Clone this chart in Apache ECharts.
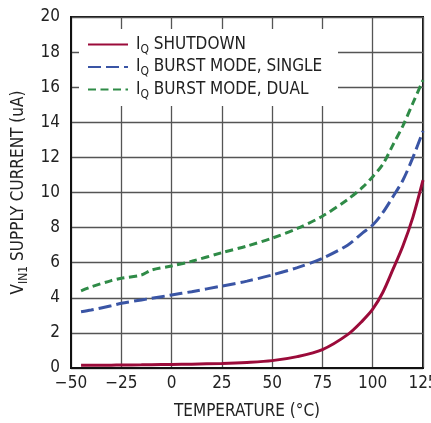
<!DOCTYPE html>
<html><head><meta charset="utf-8">
<script src="https://cdn.jsdelivr.net/npm/echarts@6/dist/echarts.min.js"></script>
<style>html,body{margin:0;padding:0;background:#fff}#c{width:431px;height:423px}</style>
</head><body><div id="c"></div>
<script>
var temps = [-45,-40,-30,-25,-15,-10,0,10,25,37.5,50,62.5,75,87.5,95,100,105,110,115,120,125];
var shutdown = [0.15,0.15,0.16,0.17,0.18,0.19,0.2,0.22,0.26,0.32,0.42,0.65,1.05,1.9,2.7,3.35,4.3,5.6,6.95,8.6,10.7];
var burstSingle = [3.2,3.3,3.55,3.69,3.88,3.97,4.16,4.35,4.67,4.95,5.3,5.72,6.25,7.0,7.7,8.15,8.85,9.75,10.7,12.0,13.5];
var burstDual = [4.4,4.62,4.98,5.11,5.3,5.58,5.81,6.08,6.57,6.95,7.4,7.95,8.65,9.6,10.3,10.9,11.6,12.7,13.8,15.1,16.4];
var seriesNames = ['SHUTDOWN','BURST MODE, SINGLE','BURST MODE, DUAL'];
var xTitle = 'TEMPERATURE (°C)';
var yTitleMain = 'V', yTitleSub = 'IN1', yTitleRest = ' SUPPLY CURRENT (uA)';

var FONT = "'Liberation Sans Narrow','DejaVu Sans Condensed',sans-serif";
var TXT = '#222';
function pairs(v){ return temps.map(function(t,i){ return [t, v[i]]; }); }
var richStyles = {
  a: {fontFamily: FONT, fontSize: 17, color: TXT, lineHeight: 22},
  s: {fontFamily: FONT, fontSize: 12, color: TXT, verticalAlign: 'bottom', padding: [9,0,0,0]}
};
var chart = echarts.init(document.getElementById('c'), null, {renderer: 'canvas'});
chart.setOption({
  animation: false,
  grid: {left: 71, right: 8, top: 17, bottom: 55, show: true, borderColor: '#111', borderWidth: 2,
         backgroundColor: 'transparent', containLabel: false, outerBoundsMode: 'none'},
  graphic: [{type: 'rect', z: 3, shape: {x: 79, y: 29, width: 259, height: 77}, style: {fill: '#fff'}, silent: true}],
  legend: {
    orient: 'vertical', left: 87, top: 36, padding: 0, itemGap: 3,
    itemWidth: 40, itemHeight: 14, z: 5,
    data: seriesNames,
    itemStyle: {opacity: 0},
    formatter: function(n){ return '{a|I}{s|Q}{a| ' + n + '}'; },
    textStyle: {fontFamily: FONT, fontSize: 17, color: TXT, padding: [0,0,0,3], rich: richStyles}
  },
  xAxis: {
    type: 'value', min: -50, max: 125, interval: 25,
    name: xTitle, nameLocation: 'middle', nameGap: 35,
    nameTextStyle: {fontFamily: FONT, fontSize: 17, color: TXT},
    axisLine: {show: true, onZero: false, lineStyle: {color: '#111', width: 2}},
    axisTick: {show: false},
    axisLabel: {fontFamily: FONT, fontSize: 17, color: TXT, margin: 7,
      formatter: function(v){ return v < 0 ? '\u2212' + Math.abs(v) : String(v); }},
    splitLine: {show: true, lineStyle: {color: '#555', width: 1.3}}
  },
  yAxis: {
    type: 'value', min: 0, max: 20, interval: 2,
    name: '{a|' + yTitleMain + '}{s|' + yTitleSub + '}{a|' + yTitleRest + '}',
    nameLocation: 'middle', nameGap: 38, nameRotate: 90,
    nameTextStyle: {fontFamily: FONT, fontSize: 17, color: TXT, rich: richStyles},
    axisLine: {show: true, onZero: false, lineStyle: {color: '#111', width: 2}},
    axisTick: {show: false},
    axisLabel: {fontFamily: FONT, fontSize: 17, color: TXT, margin: 11},
    splitLine: {show: true, lineStyle: {color: '#555', width: 1.3}}
  },
  series: [
    {name: seriesNames[0], type: 'line', data: pairs(shutdown), smooth: 0.3, symbol: 'none', showSymbol: false,
     lineStyle: {color: '#9b0b3a', width: 3}, itemStyle: {color: '#9b0b3a'}},
    {name: seriesNames[1], type: 'line', data: pairs(burstSingle), smooth: 0.3, symbol: 'none', showSymbol: false,
     lineStyle: {color: '#3a55a5', width: 3, type: [13,5]}, itemStyle: {color: '#3a55a5'}},
    {name: seriesNames[2], type: 'line', data: pairs(burstDual), smooth: 0.3, symbol: 'none', showSymbol: false,
     lineStyle: {color: '#2f8b47', width: 3, type: [8,4.5]}, itemStyle: {color: '#2f8b47'}}
  ]
});
</script></body></html>
